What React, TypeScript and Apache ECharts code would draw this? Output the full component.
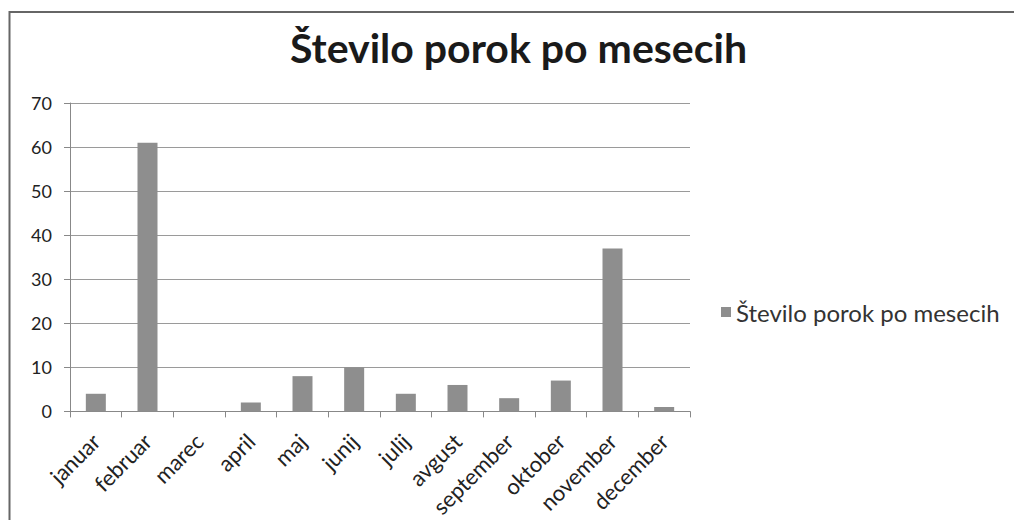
import React, { useEffect, useRef } from "react";
import * as echarts from "echarts";

const categories = ["januar", "februar", "marec", "april", "maj", "junij", "julij", "avgust", "september", "oktober", "november", "december"];
const values = [4, 61, 0, 2, 8, 10, 4, 6, 3, 7, 37, 1];
const seriesName = "Število porok po mesecih";
const titleText = "Število porok po mesecih";

const FONT = "Lato, 'Open Sans', sans-serif";

export default function App() {
  const ref = useRef<HTMLDivElement>(null);
  useEffect(() => {
    document.body.style.margin = "0";
    const chart = echarts.init(ref.current!, null, { renderer: "svg" });
    chart.setOption({
      animation: false,
      backgroundColor: "#ffffff",
      title: {
        text: titleText,
        left: 285,
        top: 22,
        textStyle: { fontFamily: FONT, fontSize: 41, fontWeight: "bold", color: "#1a1a1a" },
      },
      legend: {
        orient: "vertical",
        left: 716,
        top: 295,
        itemWidth: 10,
        itemHeight: 10,
        itemGap: 8,
        icon: "rect",
        textStyle: { fontFamily: FONT, fontSize: 24, color: "#333" },
        data: [seriesName],
      },
      grid: { left: 70, right: 324, top: 103, bottom: 108, containLabel: false },
      xAxis: {
        type: "category",
        data: categories,
        axisLine: { lineStyle: { color: "#888", width: 1 } },
        axisTick: { show: true, length: 6, lineStyle: { color: "#888" } },
        axisLabel: {
          rotate: 45,
          interval: 0,
          fontFamily: FONT,
          fontSize: 22,
          color: "#222",
          margin: 26,
        },
      },
      yAxis: {
        type: "value",
        min: 0,
        max: 70,
        interval: 10,
        axisLine: { show: true, lineStyle: { color: "#888", width: 1 } },
        axisTick: { show: true, length: 6, lineStyle: { color: "#888" } },
        axisLabel: { fontFamily: FONT, fontSize: 18, color: "#222", margin: 18 },
        splitLine: { lineStyle: { color: "#9a9a9a", width: 1 } },
      },
      series: [
        {
          name: seriesName,
          type: "bar",
          data: values,
          barWidth: 20,
          itemStyle: { color: "#8e8e8e" },
        },
      ],
      graphic: [
        {
          type: "rect",
          shape: { x: 9.5, y: 12, width: 1010, height: 520 },
          style: { fill: "none", stroke: "#666", lineWidth: 2 },
          silent: true,
        },
      ],
    });
    return () => chart.dispose();
  }, []);
  return <div ref={ref} style={{ width: 1014, height: 520 }} />;
}
